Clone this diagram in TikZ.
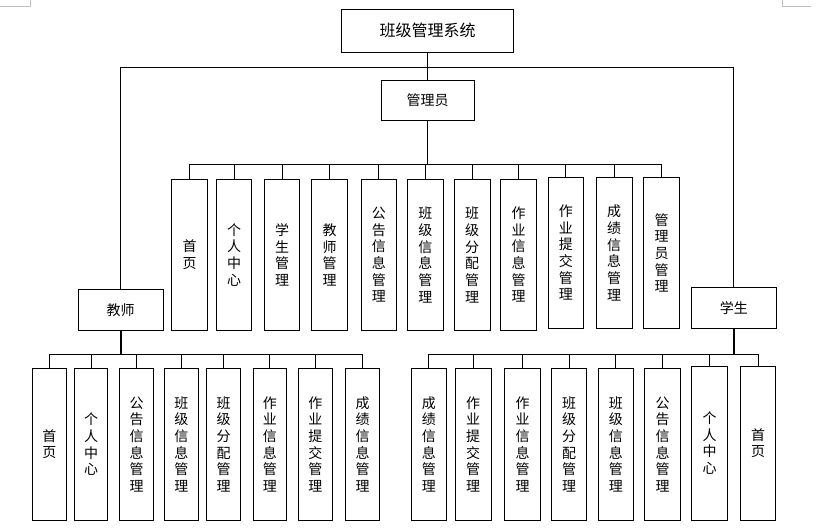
\documentclass[tikz,border=0pt]{standalone}
\usepackage{fontspec}
\newfontfamily\cjk{Noto Sans CJK SC}
\begin{document}
\begin{tikzpicture}[x=0.75pt,y=-0.75pt,
  box/.style={draw=black, line width=0.75pt, inner sep=0pt, align=center,
    font=\cjk\fontsize{10.5}{12.5}\selectfont},
  avbox/.style={box, minimum width=26.7pt, minimum height=113.7pt},
  tvbox/.style={box, minimum width=25.2pt, minimum height=114pt},
  svbox/.style={box, minimum width=26.7pt, minimum height=114pt},
  link/.style={line width=0.75pt},
  stemline/.style={line width=1.5pt},
  cornermark/.style={draw=black!25, line width=0.75pt}]
\useasboundingbox (0,0) rectangle (832,528);

% page corner marks
\draw[cornermark] (0,6.5) -- (30.5,6.5) -- (30.5,0);
\draw[cornermark] (782.4,0) -- (782.4,6.5) -- (811,6.5);

% top levels
\node[box, minimum width=128.6pt, minimum height=32.8pt,
      font=\cjk\fontsize{12}{14}\selectfont] (sys) at (427.7,30.9) {班级管理系统};
\node[box, minimum width=69.5pt, minimum height=30.2pt] (adm) at (427.7,100.2) {管理员};
\node[box, minimum width=63.5pt, minimum height=30.5pt] (tch) at (120.7,310.3) {教师};
\node[box, minimum width=63.7pt, minimum height=30.7pt] (stu) at (733.8,308.2) {学生};

% admin children
\node[avbox] (a1) at (189.7,254.8) {首\\页};
\node[avbox] (a2) at (234.0,254.8) {个\\人\\中\\心};
\node[avbox] (a3) at (282.0,254.8) {学\\生\\管\\理};
\node[avbox] (a4) at (329.5,254.8) {教\\师\\管\\理};
\node[avbox] (a5) at (378.8,254.8) {公\\告\\信\\息\\管\\理};
\node[avbox] (a6) at (425.3,254.8) {班\\级\\信\\息\\管\\理};
\node[avbox] (a7) at (472.2,254.8) {班\\级\\分\\配\\管\\理};
\node[avbox] (a8) at (518.5,254.8) {作\\业\\信\\息\\管\\理};
\node[avbox] (a9) at (565.8,252.8) {作\\业\\提\\交\\管\\理};
\node[avbox] (a10) at (614.2,252.8) {成\\绩\\信\\息\\管\\理};
\node[avbox] (a11) at (661.5,252.8) {管\\理\\员\\管\\理};

% teacher children
\node[tvbox] (t1) at (49.3,444.3) {首\\页};
\node[tvbox] (t2) at (91.0,444.3) {个\\人\\中\\心};
\node[tvbox] (t3) at (136.5,444.3) {公\\告\\信\\息\\管\\理};
\node[tvbox] (t4) at (181.3,444.3) {班\\级\\信\\息\\管\\理};
\node[tvbox] (t5) at (223.7,444.3) {班\\级\\分\\配\\管\\理};
\node[tvbox] (t6) at (269.8,444.3) {作\\业\\信\\息\\管\\理};
\node[tvbox] (t7) at (315.3,444.3) {作\\业\\提\\交\\管\\理};
\node[tvbox] (t8) at (362.5,444.3) {成\\绩\\信\\息\\管\\理};

% student children
\node[svbox] (s1) at (428.8,444.3) {成\\绩\\信\\息\\管\\理};
\node[svbox] (s2) at (473.2,444.3) {作\\业\\提\\交\\管\\理};
\node[svbox] (s3) at (522.5,444.3) {作\\业\\信\\息\\管\\理};
\node[svbox] (s4) at (569.0,444.3) {班\\级\\分\\配\\管\\理};
\node[svbox] (s5) at (615.8,444.3) {班\\级\\信\\息\\管\\理};
\node[svbox] (s6) at (662.5,444.3) {公\\告\\信\\息\\管\\理};
\node[svbox, minimum height=115.3pt] (s7) at (709.7,443.2) {个\\人\\中\\心};
\node[svbox, minimum height=115.3pt] (s8) at (758.0,443.2) {首\\页};

% connectors: system level
\coordinate (tl) at (120.7,67.7);
\coordinate (tr) at (733.8,67.7);
\draw[link] (sys) -- (adm);
\draw[link] (tch.north) -- (tl) -- (tr) -- (stu.north);

% admin bus
\coordinate (ab) at (427.7,164.3);
\draw[link] (adm) -- (ab);
\foreach \i in {1,...,11} \draw[link] (a\i.north) |- (ab);

% teacher bus
\coordinate (tb) at (120.7,354);
\draw[stemline] (tch) -- (tb);
\foreach \i in {1,...,8} \draw[link] (t\i.north) |- (tb);

% student bus
\coordinate (sb) at (733.8,354);
\draw[stemline] (stu) -- (sb);
\foreach \i in {1,...,8} \draw[link] (s\i.north) |- (sb);
\end{tikzpicture}
\end{document}
